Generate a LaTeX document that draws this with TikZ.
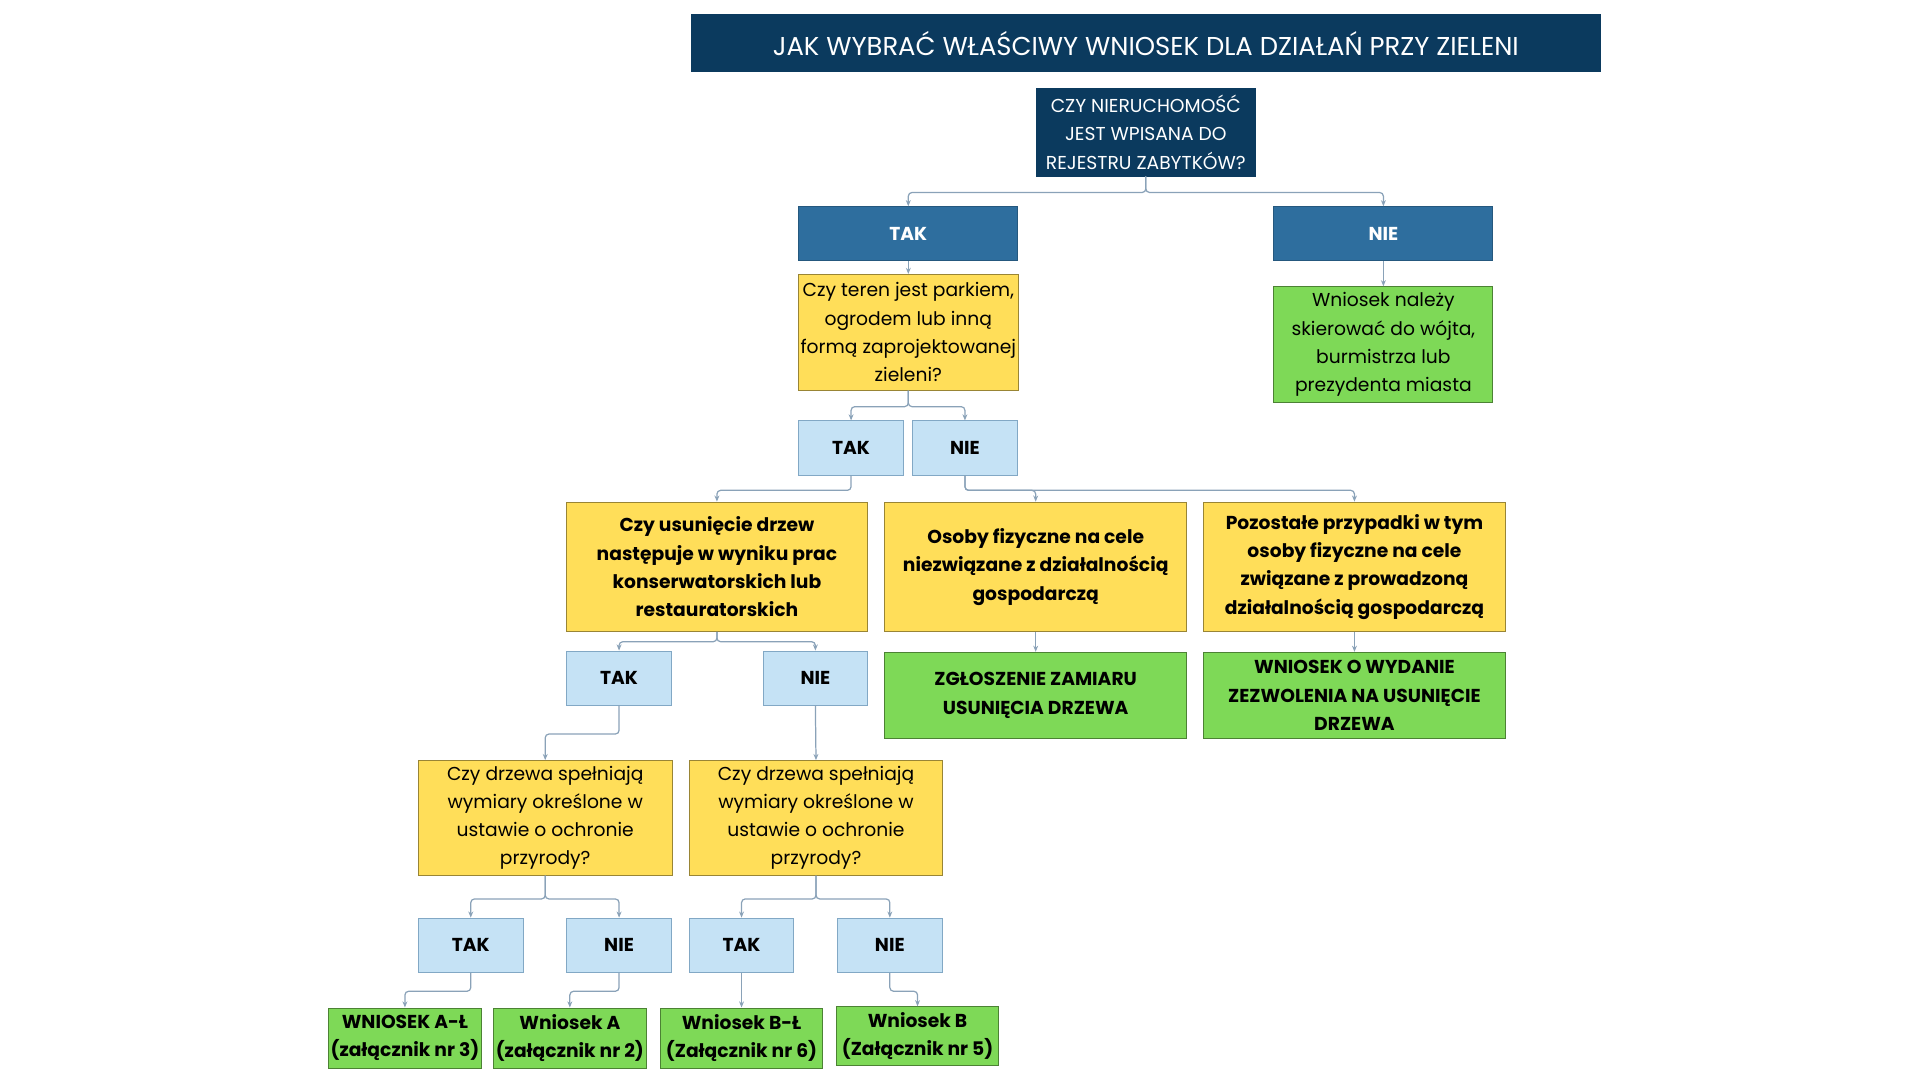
\documentclass[tikz,border=0pt]{standalone}
\usepackage{fontspec}
\setmainfont{Poppins}
\usetikzlibrary{arrows.meta,positioning}
\definecolor{navy}{HTML}{0B3A5E}
\definecolor{steel}{HTML}{2E6E9E}
\definecolor{pale}{HTML}{C5E2F5}
\definecolor{sun}{HTML}{FFDE59}
\definecolor{leaf}{HTML}{7ED957}
\definecolor{wire}{HTML}{8AA2B8}
\tikzset{
  box/.style={draw, line width=.4pt, align=center, inner sep=1pt,
    font=\fontsize{7.6}{11.5}\selectfont},
  dark/.style={box, fill=navy, draw=navy, text=white},
  head/.style={box, fill=steel, draw=steel!80!black, text=white, font=\fontsize{7.6}{11.5}\selectfont\bfseries},
  ans/.style={box, fill=pale, draw=steel!60, minimum width=42.5pt, minimum height=22pt, font=\fontsize{7.6}{11.5}\selectfont\bfseries},
  ask/.style={box, fill=sun, draw=sun!60!black},
  res/.style={box, fill=leaf, draw=leaf!60!black},
  link/.style={draw=wire, line width=.5pt, rounded corners=1.5pt, -{Stealth[length=2.5pt,width=2pt]}}
}
\begin{document}
\begin{tikzpicture}[x=0.5pt, y=-0.5pt]
  \useasboundingbox (0,0) rectangle (1560,878);
  \node[dark, minimum width=369pt, minimum height=23pt, font=\fontsize{10.5}{12}\selectfont] (title) at (931,35) {JAK WYBRAĆ WŁAŚCIWY WNIOSEK DLA DZIAŁAŃ PRZY ZIELENI};
  \node[dark, minimum width=89pt, minimum height=35.5pt] (q1) at (931,107.5) {CZY NIERUCHOMOŚĆ\\JEST WPISANA DO\\REJESTRU ZABYTKÓW?};
  \node[head, minimum width=89pt, minimum height=22pt] (tak1) at (738,190) {TAK};
  \node[head, minimum width=89pt, minimum height=22pt] (nie1) at (1124,190) {NIE};
  \node[res, minimum width=89pt, minimum height=47pt] (g1) at (1124,280) {Wniosek należy\\skierować do wójta,\\burmistrza lub\\prezydenta miasta};
  \node[ask, minimum width=89pt, minimum height=47pt] (q2) at (738,270) {Czy teren jest parkiem,\\ogrodem lub inną\\formą zaprojektowanej\\zieleni?};
  \node[ans] (tak2) at (691.5,364) {TAK};
  \node[ans] (nie2) at (784,364) {NIE};
  % second level
  \node[ask, minimum width=122.5pt, minimum height=52.5pt, font=\fontsize{7.6}{11.5}\selectfont\bfseries] (q3) at (582.5,460.5) {Czy usunięcie drzew\\następuje w wyniku prac\\konserwatorskich lub\\restauratorskich};
  \node[ask, minimum width=122.5pt, minimum height=52.5pt, font=\fontsize{7.6}{11.5}\selectfont\bfseries] (os) at (841.5,460.5) {Osoby fizyczne na cele\\niezwiązane z działalnością\\gospodarczą};
  \node[ask, minimum width=122.5pt, minimum height=52.5pt, font=\fontsize{7.6}{11.5}\selectfont\bfseries] (poz) at (1100.5,460.5) {Pozostałe przypadki w tym\\osoby fizyczne na cele\\związane z prowadzoną\\działalnością gospodarczą};
  \node[res, minimum width=122.5pt, minimum height=35pt, font=\fontsize{7.6}{11.5}\selectfont\bfseries] (zgl) at (841.5,565) {ZGŁOSZENIE ZAMIARU\\USUNIĘCIA DRZEWA};
  \node[res, minimum width=122.5pt, minimum height=35pt, font=\fontsize{7.6}{11.5}\selectfont\bfseries] (zezw) at (1100.5,565) {WNIOSEK O WYDANIE\\ZEZWOLENIA NA USUNIĘCIE\\DRZEWA};
  \node[ans] (tak3) at (503,551) {TAK};
  \node[ans] (nie3) at (662.5,551) {NIE};
  \node[ask, minimum width=103pt, minimum height=46.5pt] (q4) at (443,664.5) {Czy drzewa spełniają\\wymiary określone w\\ustawie o ochronie\\przyrody?};
  \node[ask, minimum width=103pt, minimum height=46.5pt] (q5) at (663,664.5) {Czy drzewa spełniają\\wymiary określone w\\ustawie o ochronie\\przyrody?};
  \node[ans] (tak4) at (382.5,768) {TAK};
  \node[ans] (nie4) at (503,768) {NIE};
  \node[ans] (tak5) at (602.5,768) {TAK};
  \node[ans] (nie5) at (723,768) {NIE};
  % results
  \node[res, minimum width=61pt, minimum height=24.5pt, font=\fontsize{7.6}{11.5}\selectfont\bfseries] (wAL) at (329,843.5) {WNIOSEK A-Ł\\(załącznik nr 3)};
  \node[res, minimum width=61pt, minimum height=24.5pt, font=\fontsize{7.6}{11.5}\selectfont\bfseries] (wA) at (463,843.5) {Wniosek A\\(załącznik nr 2)};
  \node[res, minimum width=65.5pt, minimum height=24.5pt, font=\fontsize{7.6}{11.5}\selectfont\bfseries] (wBL) at (602.5,843.5) {Wniosek B-Ł\\(Załącznik nr 6)};
  \node[res, minimum width=65.5pt, minimum height=24pt, font=\fontsize{7.6}{11.5}\selectfont\bfseries] (wB) at (745.5,842) {Wniosek B\\(Załącznik nr 5)};
  % connectors
  \foreach \p/\c/\d in {q1/tak1/13, q1/nie1/13, q2/tak2/13, q2/nie2/13, tak2/q3/12, nie2/os/12, nie2/poz/12,
      q3/tak3/8, q3/nie3/8, tak3/q4/23, q4/tak4/19, q4/nie4/19, q5/tak5/19, q5/nie5/19,
      tak4/wAL/15, nie4/wA/15, nie5/wB/15}
    \draw[link] (\p.south) -- ++(0,\d) -| (\c.north);
  \foreach \p/\c in {tak1/q2, nie1/g1, os/zgl, poz/zezw, nie3/q5, tak5/wBL}
    \draw[link] (\p.south) -- (\c.north);
\end{tikzpicture}
\end{document}
